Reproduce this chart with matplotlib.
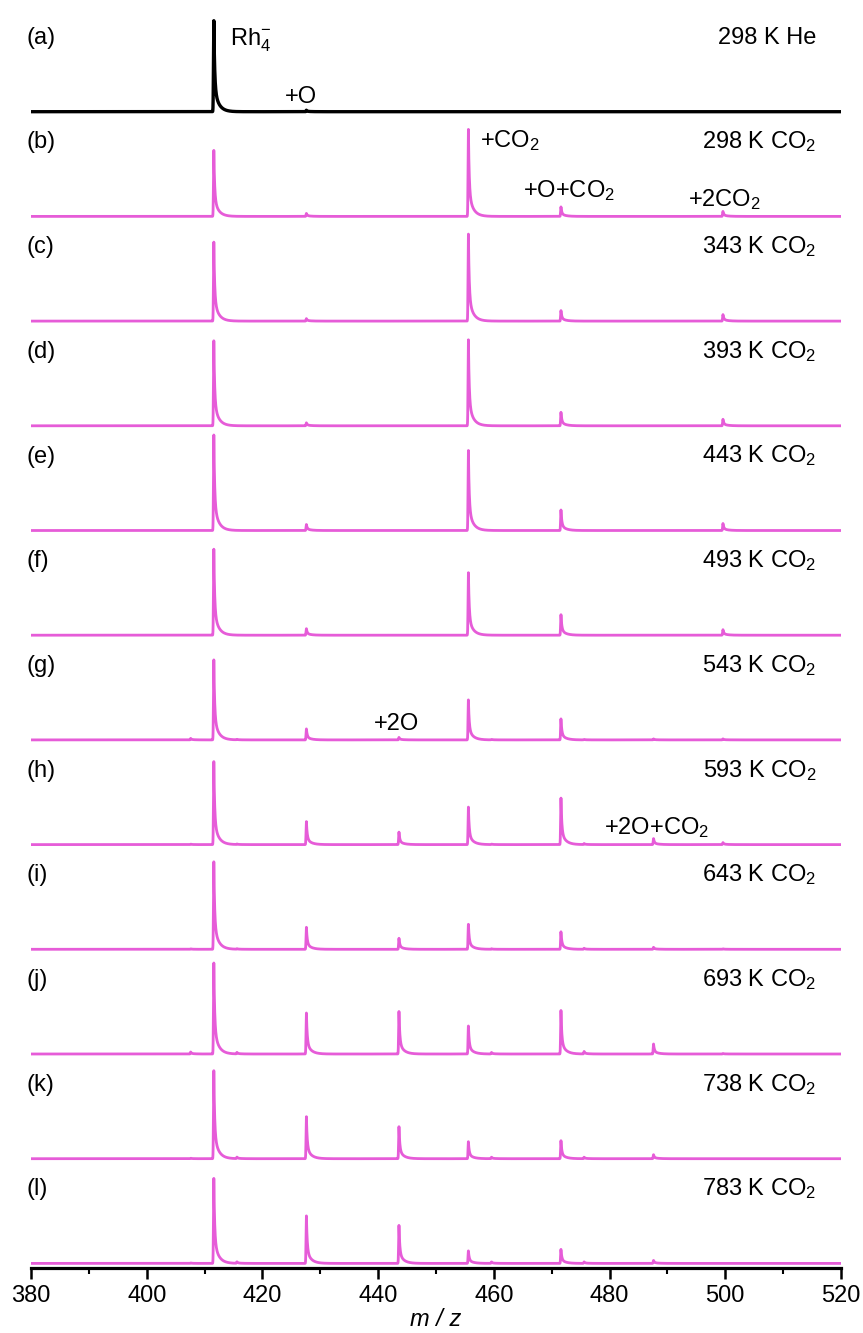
import numpy as np
import matplotlib
matplotlib.use("Agg")
import matplotlib.pyplot as plt
from matplotlib.ticker import MultipleLocator

plt.rcParams['font.family'] = ['Liberation Sans', 'DejaVu Sans']
plt.rcParams['mathtext.fontset'] = 'custom'
plt.rcParams['mathtext.rm'] = 'Liberation Sans'
plt.rcParams['mathtext.it'] = 'Liberation Sans:italic'
plt.rcParams['mathtext.default'] = 'regular'

# ---- data -------------------------------------------------------------
panel_tags = ['(a)', '(b)', '(c)', '(d)', '(e)', '(f)',
              '(g)', '(h)', '(i)', '(j)', '(k)', '(l)']
conditions = ['298 K He', '298 K CO$_2$', '343 K CO$_2$', '393 K CO$_2$',
              '443 K CO$_2$', '493 K CO$_2$', '543 K CO$_2$', '593 K CO$_2$',
              '643 K CO$_2$', '693 K CO$_2$', '738 K CO$_2$', '783 K CO$_2$']

# main ion positions: Rh4-, +O, +2O, +CO2, +O+CO2, +2O+CO2, +2CO2
ion_mz = [411.6, 427.6, 443.6, 455.6, 471.6, 487.6, 499.6]
h_rh4 = [91.0, 66.0, 79.0, 85.0, 95.5, 86.0, 80.0, 83.0, 87.5, 91.0, 88.0, 85.0]
h_o = [1.5, 3.0, 2.5, 3.0, 6.0, 6.5, 11.0, 23.0, 22.0, 41.0, 42.0, 47.5]
h_2o = [0.0, 0.0, 0.0, 0.0, 0.0, 0.0, 2.5, 12.5, 11.0, 42.5, 32.0, 38.0]
h_co2 = [0.0, 87.0, 87.0, 86.0, 80.0, 62.5, 40.0, 37.5, 25.0, 28.0, 17.0, 12.5]
h_o_co2 = [0.0, 9.5, 10.5, 13.5, 20.5, 20.5, 21.0, 46.5, 17.5, 43.5, 18.0, 14.0]
h_2o_co2 = [0.0, 0.0, 0.0, 0.0, 0.0, 0.0, 1.0, 6.0, 2.0, 10.0, 4.0, 3.0]
h_2co2 = [0.0, 5.0, 6.5, 6.5, 7.0, 5.5, 1.0, 2.0, 0.5, 0.5, 0.0, 0.0]

# weak side signals
minor_mz = [407.6, 415.6, 459.6, 475.6]
h_m407 = [0.0, 0.0, 0.0, 0.0, 0.0, 0.0, 1.5, 0.5, 0.5, 2.0, 0.5, 0.5]
h_m415 = [0.0, 0.0, 0.0, 0.0, 0.0, 0.0, 0.5, 0.5, 0.5, 1.5, 1.5, 1.5]
h_m460 = [0.0, 0.0, 0.0, 0.0, 0.0, 0.0, 0.5, 0.5, 0.5, 1.5, 1.5, 1.5]
h_m476 = [0.0, 0.0, 0.0, 0.0, 0.0, 0.0, 0.5, 1.0, 1.0, 2.5, 1.5, 1.5]

major_heights = [h_rh4, h_o, h_2o, h_co2, h_o_co2, h_2o_co2, h_2co2]
minor_heights = [h_m407, h_m415, h_m460, h_m476]

# peak annotations: (panel index, text, m/z of left edge, height above baseline)
annotations = [
    (0, 'Rh$_4^{-}$', 414.4, 66),
    (0, '+O', 423.9, 9),
    (1, '+CO$_2$', 457.6, 69),
    (1, '+O+CO$_2$', 465.0, 19),
    (1, '+2CO$_2$', 493.5, 10),
    (6, '+2O', 439.3, 10),
    (7, '+2O+CO$_2$', 479.0, 11),
]

# ---- drawing ----------------------------------------------------------
mz = np.arange(380.0, 520.0, 0.01)


def peak(center, height):
    d = mz - center
    left = np.exp(-0.5 * (d / 0.06) ** 2)
    dp = np.clip(d, 0, None)
    right = 0.72 * np.exp(-dp / 0.14) + 0.28 * np.exp(-dp / 0.75)
    return height * np.where(d < 0, left, right)


W, H = 863, 1333
fig = plt.figure(figsize=(W / 100, H / 100), dpi=100)

x_left, x_right = 31 / W, 841 / W
axis_px = 1268
panel_px = 104.7
n = len(panel_tags)
magenta = '#E65CD8'
fs = 17

for i in range(n):
    bottom_px = axis_px - (n - 1 - i) * panel_px
    ax = fig.add_axes([x_left, 1 - bottom_px / H, x_right - x_left, panel_px / H])
    y = np.zeros_like(mz)
    for pos, hs in zip(ion_mz, major_heights):
        if hs[i] > 0:
            y += peak(pos, hs[i])
    for pos, hs in zip(minor_mz, minor_heights):
        if hs[i] > 0:
            y += peak(pos, hs[i])
    color = 'black' if i == 0 else magenta
    lw = 2.4 if i == 0 else 2.0
    ax.plot(mz, y, color=color, lw=lw, solid_joinstyle='round')
    ax.set_xlim(380, 520)
    ax.set_ylim(-4.6, panel_px - 4.6)
    for s in ['top', 'left', 'right']:
        ax.spines[s].set_visible(False)
    ax.set_yticks([])
    ax.patch.set_alpha(0)

    ax.text(379.3, 68, panel_tags[i], fontsize=fs, ha='left', va='baseline')
    ax.text(515.8, 68, conditions[i], fontsize=fs, ha='right', va='baseline')
    for (pi, txt, xm, yh) in annotations:
        if pi == i:
            ax.text(xm, yh, txt, fontsize=fs, ha='left', va='baseline')

    if i < n - 1:
        ax.spines['bottom'].set_visible(False)
        ax.set_xticks([])
    else:
        ax.spines['bottom'].set_linewidth(2.3)
        ax.xaxis.set_major_locator(MultipleLocator(20))
        ax.xaxis.set_minor_locator(MultipleLocator(10))
        ax.tick_params(axis='x', which='major', direction='out', length=8,
                       width=1.8, labelsize=fs, pad=4)
        ax.tick_params(axis='x', which='minor', direction='out', length=4.5,
                       width=1.5)
        ax.set_xlabel('m / z', fontsize=fs, style='italic', labelpad=1)

fig.savefig('out.png', dpi=100)
